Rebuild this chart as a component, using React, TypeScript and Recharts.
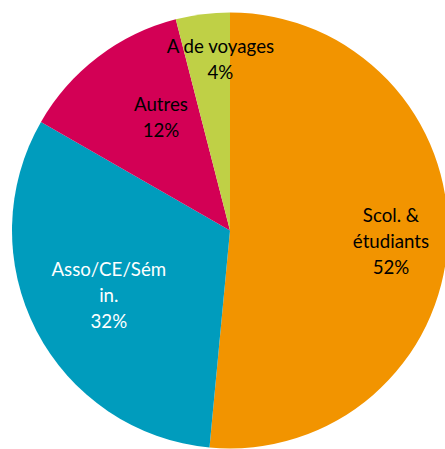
import React from 'react';
import { PieChart, Pie, Cell } from 'recharts';

const categories = ['Scol. & étudiants', 'Asso/CE/Sém in.', 'Autres', 'A de voyages'];
const labelLines = [['Scol. &', 'étudiants', '52%'], ['Asso/CE/Sém', 'in.', '32%'], ['Autres', '12%'], ['A de voyages', '4%']];
const values = [51.5, 31.8, 12.7, 4.0];
const colors = ['#F29400', '#009CBD', '#D30055', '#BFD046'];
const textColors = ['#000000', '#FFFFFF', '#000000', '#000000'];
const labelRadius = [0.74, 0.63, 0.61, 0.79];
const labelAngleNudge = [-1, 0.7, -6, -4];

const data = categories.map((name, i) => ({ name, value: values[i] }));

const RAD = Math.PI / 180;

const renderLabel = (props: any) => {
  const { cx, cy, midAngle, outerRadius, index } = props;
  const a = (midAngle + labelAngleNudge[index]) * RAD;
  const r = outerRadius * labelRadius[index];
  const x = cx + r * Math.cos(a);
  const y = cy - r * Math.sin(a);
  const lines = labelLines[index];
  const lh = 26;
  const startY = y - ((lines.length - 1) * lh) / 2;
  return (
    <text
      x={x}
      y={startY}
      fill={textColors[index]}
      textAnchor="middle"
      dominantBaseline="central"
      fontFamily="Lato, 'Open Sans', sans-serif"
      fontSize={18.7}
    >
      {lines.map((l, i) => (
        <tspan key={i} x={x} y={startY + i * lh}>
          {l}
        </tspan>
      ))}
    </text>
  );
};

export default function App() {
  return (
    <div style={{ position: 'absolute', left: 0, top: 0, width: 445, height: 449, background: '#fff' }}>
      <PieChart width={445} height={449} margin={{ top: 0, right: 0, bottom: 0, left: 0 }}>
        <Pie
          data={data}
          dataKey="value"
          nameKey="name"
          cx={230}
          cy={230.5}
          outerRadius={218}
          startAngle={90}
          endAngle={-270}
          stroke="none"
          label={renderLabel}
          labelLine={false}
          isAnimationActive={false}
        >
          {data.map((d, i) => (
            <Cell key={d.name} fill={colors[i]} />
          ))}
        </Pie>
      </PieChart>
    </div>
  );
}
